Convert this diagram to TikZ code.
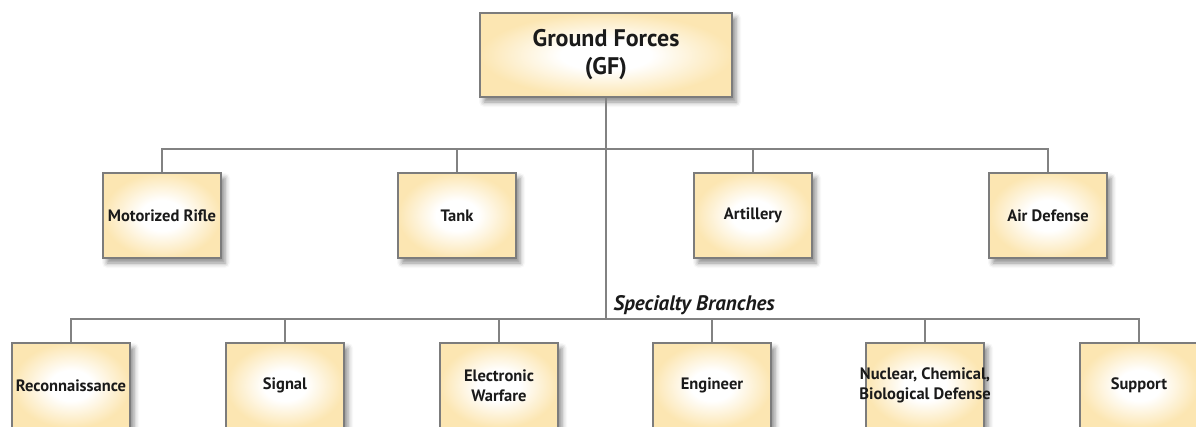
\documentclass[tikz,border=0pt]{standalone}
\usepackage{fontspec}
\setmainfont{PT Sans}
\usepackage{xcolor}
\usetikzlibrary{shadows.blur}
\definecolor{linec}{HTML}{828282}
\definecolor{edgec}{HTML}{7C7C7C}
\definecolor{cream}{HTML}{FCE6B2}
\definecolor{inkc}{HTML}{1A1A1A}
\pgfdeclareradialshading[cream]{glow}{\pgfpoint{0bp}{0bp}}{color(0bp)=(white); color(9bp)=(white); color(25bp)=(cream); color(50bp)=(cream)}
\tikzset{
  link/.style={linec,line width=1.8pt},
  unit/.style={draw=edgec,line width=1.8pt,shade,shading=glow,minimum width=118pt,minimum height=85pt,
    inner sep=0pt,align=center,text=inkc,font=\bfseries\fontsize{16.5}{19.5}\selectfont,
    blur shadow={shadow xshift=4pt,shadow yshift=-5pt,shadow blur radius=5pt,shadow opacity=45}},
  topbox/.style={unit,minimum width=252pt,minimum height=84pt,font=\bfseries\fontsize{24}{28}\selectfont},
  lbl/.style={align=center,text=inkc,font=\bfseries\fontsize{16.5}{19.5}\selectfont}
}
\begin{document}
\begin{tikzpicture}[x=1pt,y=-1pt]
\useasboundingbox (0,0) rectangle (1196,426);
\clip (0,0) rectangle (1196,426);
% top
\node[topbox] (gf) at (606,55) {Ground Forces\\(GF)};
% main branches
\node[unit] (mr) at (162,215.5) {Motorized Rifle};
\node[unit] (tk) at (457,215.5) {Tank};
\node[unit] (ar) at (753,215.5) {Artillery};
\node[unit] (ad) at (1048,215.5) {Air Defense};
% specialty branches
\node[unit] (rc) at (71,385.5) {Reconnaissance};
\node[unit] (sg) at (285,385.5) {Signal};
\node[unit] (ew) at (499,385.5) {Electronic\\Warfare};
\node[unit] (en) at (712,385.5) {Engineer};
\node[unit,label={[lbl]center:{Nuclear, Chemical,\\Biological Defense}}] (nb) at (925,385.5) {};
\node[unit] (su) at (1139,385.5) {Support};
% connectors
\coordinate (bus1) at (606,149);
\coordinate (bus2) at (606,319);
\draw[link] (gf.south) -- (bus2);
\draw[link] (mr.north) |- (bus1) -| (ad.north);
\foreach \n in {tk,ar} \draw[link] (\n.north) -- (\n.north |- bus1);
\draw[link] (rc.north) |- (bus2) -| (su.north);
\foreach \n in {sg,ew,en,nb} \draw[link] (\n.north) -- (\n.north |- bus2);
\node[anchor=base west,text=inkc,font=\bfseries\itshape\fontsize{21}{25}\selectfont] (spec) at (610,310) {Specialty Branches};
\end{tikzpicture}
\end{document}
